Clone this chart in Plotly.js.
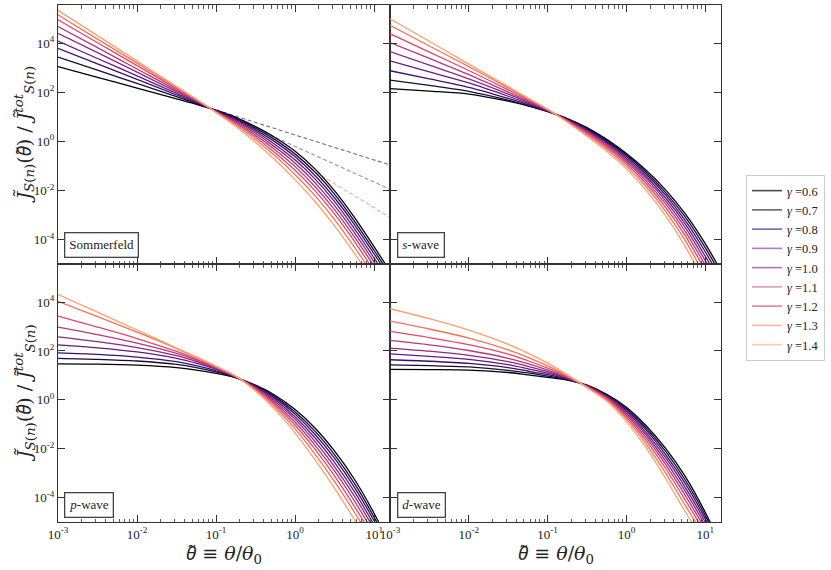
<!DOCTYPE html>
<html>
<head>
<meta charset="utf-8">
<script src="https://cdn.plot.ly/plotly-3.0.1.min.js"></script>
<style>
    html, body { margin: 0; padding: 0; background: #ffffff; }
    #plot { width: 831px; height: 570px; }
</style>
</head>
<body>
<div id="plot"></div>
<script>
// theta / theta_0 sample points shared by every curve
const theta = [0.001, 0.00316, 0.01, 0.0316, 0.0562, 0.1, 0.178, 0.316, 0.562, 1, 1.78, 3.16, 5.62, 10, 17.8];

const gammas = ["0.6", "0.7", "0.8", "0.9", "1.0", "1.1", "1.2", "1.3", "1.4"];
const line_colors = ["#000004", "#140e36", "#3b0f70", "#641a80", "#8c2981", "#b73779", "#de4968", "#f7705c", "#fe9f6d"];
const legend_colors = ["rgba(0,0,4,0.7)", "rgba(20,14,54,0.65)", "rgba(59,15,112,0.65)", "rgba(100,26,128,0.55)",
    "rgba(140,41,129,0.65)", "rgba(183,55,121,0.5)", "rgba(222,73,104,0.7)", "rgba(247,112,92,0.5)", "rgba(254,159,109,0.55)"];

// log10 of J / J_tot, one row per gamma (0.6 ... 1.4)
const sommerfeld_log = [
    [3.05, 2.61, 2.17, 1.73, 1.51, 1.27, 0.98, 0.60, 0.15, -0.40, -1.12, -2.02, -3.10, -4.30, -5.55],
    [3.44, 2.90, 2.36, 1.82, 1.54, 1.25, 0.94, 0.54, 0.06, -0.52, -1.25, -2.16, -3.25, -4.45, -5.69],
    [3.79, 3.16, 2.53, 1.89, 1.58, 1.24, 0.91, 0.47, -0.03, -0.63, -1.39, -2.31, -3.39, -4.59, -5.83],
    [4.09, 3.38, 2.67, 1.96, 1.61, 1.23, 0.86, 0.40, -0.14, -0.76, -1.53, -2.46, -3.56, -4.76, -5.99],
    [4.41, 3.62, 2.82, 2.03, 1.64, 1.22, 0.82, 0.33, -0.24, -0.89, -1.68, -2.62, -3.72, -4.92, -6.15],
    [4.68, 3.82, 2.95, 2.09, 1.66, 1.21, 0.78, 0.25, -0.35, -1.03, -1.84, -2.79, -3.89, -5.09, -6.32],
    [4.96, 4.02, 3.09, 2.15, 1.69, 1.20, 0.73, 0.17, -0.47, -1.18, -2.01, -2.97, -4.08, -5.29, -6.50],
    [5.16, 4.17, 3.19, 2.20, 1.71, 1.19, 0.67, 0.07, -0.60, -1.36, -2.21, -3.19, -4.31, -5.51, -6.71],
    [5.34, 4.31, 3.27, 2.24, 1.72, 1.18, 0.61, -0.05, -0.77, -1.57, -2.45, -3.45, -4.57, -5.77, -6.97],
];

const s_wave_log = [
    [2.15, 2.05, 1.93, 1.64, 1.45, 1.21, 0.93, 0.56, 0.08, -0.50, -1.18, -1.99, -2.97, -4.17, -5.57],
    [2.50, 2.28, 2.04, 1.68, 1.46, 1.22, 0.915, 0.52, 0.03, -0.56, -1.26, -2.10, -3.10, -4.33, -5.74],
    [2.88, 2.55, 2.20, 1.75, 1.50, 1.23, 0.90, 0.49, -0.02, -0.62, -1.34, -2.20, -3.24, -4.50, -5.92],
    [3.28, 2.83, 2.38, 1.84, 1.55, 1.24, 0.88, 0.45, -0.07, -0.69, -1.43, -2.32, -3.38, -4.68, -6.11],
    [3.66, 3.11, 2.55, 1.93, 1.60, 1.26, 0.87, 0.41, -0.12, -0.76, -1.52, -2.44, -3.53, -4.86, -6.30],
    [4.03, 3.38, 2.72, 2.01, 1.65, 1.27, 0.85, 0.37, -0.18, -0.83, -1.62, -2.56, -3.69, -5.05, -6.50],
    [4.39, 3.64, 2.89, 2.10, 1.70, 1.28, 0.83, 0.32, -0.24, -0.91, -1.73, -2.70, -3.86, -5.26, -6.73],
    [4.73, 3.89, 3.05, 2.18, 1.74, 1.30, 0.81, 0.27, -0.31, -1.01, -1.85, -2.86, -4.06, -5.51, -6.99],
    [5.00, 4.08, 3.15, 2.23, 1.77, 1.31, 0.78, 0.21, -0.40, -1.12, -2.00, -3.05, -4.30, -5.80, -7.30],
];

const p_wave_log = [
    [1.47, 1.46, 1.42, 1.32, 1.22, 1.08, 0.90, 0.60, 0.18, -0.40, -1.15, -2.10, -3.25, -4.65, -6.25],
    [1.70, 1.66, 1.59, 1.45, 1.32, 1.14, 0.91, 0.58, 0.12, -0.50, -1.28, -2.25, -3.42, -4.81, -6.39],
    [1.92, 1.86, 1.75, 1.56, 1.40, 1.19, 0.92, 0.55, 0.06, -0.59, -1.41, -2.40, -3.58, -4.96, -6.52],
    [2.25, 2.13, 1.96, 1.70, 1.50, 1.25, 0.93, 0.53, -0.01, -0.70, -1.55, -2.57, -3.76, -5.13, -6.67],
    [2.58, 2.38, 2.14, 1.81, 1.57, 1.28, 0.94, 0.50, -0.08, -0.80, -1.70, -2.74, -3.94, -5.30, -6.82],
    [2.98, 2.67, 2.32, 1.90, 1.63, 1.31, 0.94, 0.47, -0.15, -0.92, -1.85, -2.92, -4.14, -5.49, -6.98],
    [3.43, 2.98, 2.51, 1.98, 1.67, 1.33, 0.95, 0.44, -0.22, -1.04, -2.02, -3.12, -4.36, -5.69, -7.15],
    [4.03, 3.41, 2.77, 2.10, 1.73, 1.35, 0.96, 0.40, -0.31, -1.19, -2.22, -3.35, -4.60, -5.92, -7.36],
    [4.31, 3.59, 2.86, 2.12, 1.76, 1.38, 0.97, 0.36, -0.42, -1.36, -2.45, -3.62, -4.90, -6.20, -7.60],
];

const d_wave_log = [
    [1.25, 1.24, 1.22, 1.12, 1.02, 0.92, 0.81, 0.60, 0.23, -0.30, -1.06, -2.00, -3.15, -4.60, -6.30],
    [1.43, 1.40, 1.35, 1.21, 1.10, 0.97, 0.83, 0.59, 0.20, -0.36, -1.15, -2.12, -3.30, -4.73, -6.41],
    [1.64, 1.58, 1.49, 1.32, 1.18, 1.03, 0.85, 0.58, 0.17, -0.42, -1.24, -2.25, -3.44, -4.86, -6.52],
    [1.88, 1.78, 1.66, 1.44, 1.27, 1.09, 0.87, 0.57, 0.14, -0.48, -1.34, -2.38, -3.60, -5.00, -6.64],
    [2.12, 1.99, 1.82, 1.56, 1.37, 1.15, 0.89, 0.56, 0.11, -0.55, -1.44, -2.52, -3.76, -5.15, -6.76],
    [2.43, 2.25, 2.02, 1.70, 1.48, 1.22, 0.92, 0.55, 0.08, -0.62, -1.55, -2.66, -3.93, -5.30, -6.89],
    [2.80, 2.55, 2.26, 1.87, 1.60, 1.30, 0.95, 0.53, 0.04, -0.70, -1.67, -2.82, -4.12, -5.47, -7.04],
    [3.22, 2.90, 2.53, 2.05, 1.74, 1.39, 0.98, 0.52, 0.00, -0.78, -1.81, -3.01, -4.34, -5.67, -7.20],
    [3.73, 3.32, 2.85, 2.27, 1.91, 1.50, 1.02, 0.50, -0.05, -0.89, -1.97, -3.23, -4.60, -5.90, -7.40],
];

// dashed power-law continuations in the Sommerfeld panel (gamma 0.7, 1.0, 1.3)
const dashed_theta = [0.085, 15.8];
const dashed_log = [
    [1.35, -0.96],
    [1.35, -1.95],
    [1.35, -3.10],
];
const dashed_colors = ["rgba(20,14,54,0.6)", "rgba(140,41,129,0.6)", "rgba(247,112,92,0.6)"];

const x_tick_vals = [0.001, 0.01, 0.1, 1, 10];
const x_tick_text = ["10<sup>-3</sup>", "10<sup>-2</sup>", "10<sup>-1</sup>", "10<sup>0</sup>", "10<sup>1</sup>"];
const y_tick_vals = [1e-4, 1e-2, 1, 1e2, 1e4];
const y_tick_text = ["10<sup>-4</sup>", "10<sup>-2</sup>", "10<sup>0</sup>", "10<sup>2</sup>", "10<sup>4</sup>"];

const panel_names = ["Sommerfeld", "<i>s</i>-wave", "<i>p</i>-wave", "<i>d</i>-wave"];

const serif = "Liberation Serif, DejaVu Serif, serif";
const title_font = "DejaVu Serif, serif";
const axis_color = "#333333";

// theta with a tilde, set in a font that places the combining mark properly
const theta_tilde = "<span style='font-family:Noto Sans'><i>θ̃</i></span>";

// minor ticks at 2..9 x 10^k inside the x range
let minor_vals = [];
for (let k = -3; k <= 1; k++) {
    for (let m = 2; m <= 9; m++) {
        let v = m * Math.pow(10, k);
        if (v < 15.8) {
            minor_vals.push(v);
        }
    }
}

function make_x_axis(domain, anchor, show_labels) {
    return {
        type: "log",
        range: [-3, 1.2],
        domain: domain,
        anchor: anchor,
        tickmode: "array",
        tickvals: x_tick_vals,
        ticktext: x_tick_text,
        showticklabels: show_labels,
        ticks: "inside",
        ticklen: 7,
        tickwidth: 1,
        tickcolor: axis_color,
        minor: {tickmode: "array", tickvals: minor_vals, ticks: "inside", ticklen: 3.5, tickwidth: 0.8, tickcolor: axis_color, showgrid: false},
        showline: true,
        linecolor: axis_color,
        linewidth: 1.1,
        mirror: "ticks",
        showgrid: false,
        zeroline: false,
        tickfont: {family: serif, size: 13, color: "#222222"},
    };
}

function make_y_axis(domain, anchor, show_labels) {
    return {
        type: "log",
        range: [-5, 5.56],
        domain: domain,
        anchor: anchor,
        tickmode: "array",
        tickvals: y_tick_vals,
        ticktext: y_tick_text,
        showticklabels: show_labels,
        ticks: "inside",
        ticklen: 7,
        tickwidth: 1,
        tickcolor: axis_color,
        showline: true,
        linecolor: axis_color,
        linewidth: 1.1,
        mirror: "ticks",
        showgrid: false,
        zeroline: false,
        tickfont: {family: serif, size: 13, color: "#222222"},
    };
}

function curve_traces(log_rows, x_name, y_name) {
    let traces = [];
    for (let i = 0; i < log_rows.length; i++) {
        traces.push({
            x: theta,
            y: log_rows[i].map(v => Math.pow(10, v)),
            xaxis: x_name,
            yaxis: y_name,
            mode: "lines",
            line: {color: line_colors[i], width: 1.3, shape: "spline", smoothing: 0.8},
            showlegend: false,
            hoverinfo: "skip",
        });
    }
    return traces;
}

function build_plot() {
    let data = [];

    // dashed lines go under the solid ones
    for (let i = 0; i < dashed_log.length; i++) {
        data.push({
            x: dashed_theta,
            y: dashed_log[i].map(v => Math.pow(10, v)),
            xaxis: "x",
            yaxis: "y",
            mode: "lines",
            line: {color: dashed_colors[i], width: 1.1, dash: "4px,2.5px"},
            showlegend: false,
            hoverinfo: "skip",
        });
    }

    data = data.concat(curve_traces(sommerfeld_log, "x", "y"));
    data = data.concat(curve_traces(s_wave_log, "x2", "y2"));
    data = data.concat(curve_traces(p_wave_log, "x3", "y3"));
    data = data.concat(curve_traces(d_wave_log, "x4", "y4"));

    // legend entries (drawn lighter than the curves, like the original)
    for (let i = 0; i < gammas.length; i++) {
        data.push({
            x: [null],
            y: [null],
            xaxis: "x",
            yaxis: "y",
            mode: "lines",
            name: "<i>γ</i> =" + gammas[i],
            line: {color: legend_colors[i], width: 1.6},
            showlegend: true,
        });
    }

    let left_dom = [58 / 831, 390 / 831];
    let right_dom = [390 / 831, 721 / 831];
    let top_dom = [1 - 264 / 570, 1 - 5 / 570];
    let bot_dom = [1 - 522 / 570, 1 - 264 / 570];

    let annotations = [];
    let label_pos = [
        [64 / 831, 1 - 258 / 570],
        [397 / 831, 1 - 258 / 570],
        [64 / 831, 1 - 518 / 570],
        [397 / 831, 1 - 518 / 570],
    ];
    for (let i = 0; i < panel_names.length; i++) {
        annotations.push({
            text: panel_names[i],
            xref: "paper", yref: "paper",
            x: label_pos[i][0], y: label_pos[i][1],
            xanchor: "left", yanchor: "bottom",
            showarrow: false,
            font: {family: serif, size: 13, color: "#222222"},
            bgcolor: "#ffffff",
            bordercolor: "#444444",
            borderwidth: 1.3,
            borderpad: 4,
        });
    }

    let y_title = "<i>J̃</i><sub><i>S</i>(<i>n</i>)</sub>(" + theta_tilde + ") / <i>J̃</i><sup><i>tot</i></sup><sub><i>S</i>(<i>n</i>)</sub>";
    for (const yc of [(5 + 264) / 2, (264 + 522) / 2]) {
        annotations.push({
            text: y_title,
            xref: "paper", yref: "paper",
            x: 24 / 831, y: 1 - yc / 570,
            xanchor: "center", yanchor: "middle",
            textangle: -90,
            showarrow: false,
            font: {family: title_font, size: 19, color: "#222222"},
        });
    }

    let x_title = theta_tilde + " ≡ <i>θ</i>/<i>θ</i><sub>0</sub>";
    for (const xc of [(58 + 390) / 2, (390 + 721) / 2]) {
        annotations.push({
            text: x_title,
            xref: "paper", yref: "paper",
            x: xc / 831, y: 1 - 553 / 570,
            xanchor: "center", yanchor: "middle",
            showarrow: false,
            font: {family: title_font, size: 19, color: "#222222"},
        });
    }

    let layout = {
        width: 831,
        height: 570,
        margin: {l: 0, r: 0, t: 0, b: 0},
        paper_bgcolor: "#ffffff",
        plot_bgcolor: "#ffffff",
        showlegend: true,
        legend: {
            x: 746 / 831, y: 1 - 175 / 570,
            xanchor: "left", yanchor: "top",
            bgcolor: "#ffffff",
            bordercolor: "#cccccc",
            borderwidth: 1,
            font: {family: serif, size: 12.5, color: "#222222"},
            itemwidth: 30,
            tracegroupgap: 0,
        },
        xaxis: make_x_axis(left_dom, "y", false),
        yaxis: make_y_axis(top_dom, "x", true),
        xaxis2: make_x_axis(right_dom, "y2", false),
        yaxis2: make_y_axis(top_dom, "x2", false),
        xaxis3: make_x_axis(left_dom, "y3", true),
        yaxis3: make_y_axis(bot_dom, "x3", true),
        xaxis4: make_x_axis(right_dom, "y4", true),
        yaxis4: make_y_axis(bot_dom, "x4", false),
        annotations: annotations,
    };

    Plotly.newPlot("plot", data, layout, {staticPlot: true});
}

window.addEventListener("DOMContentLoaded", () => {
    build_plot();
});
</script>
</body>
</html>
